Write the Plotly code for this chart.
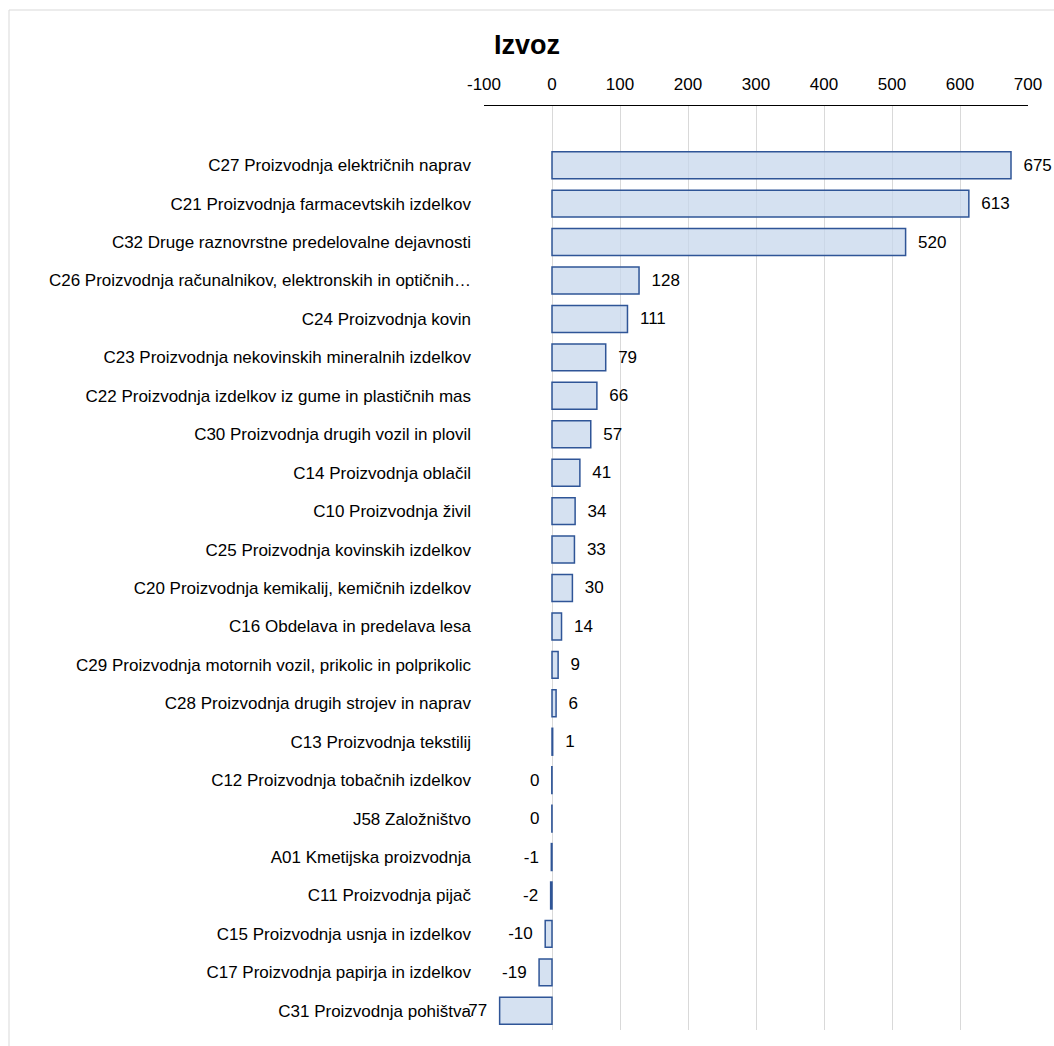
import plotly.graph_objects as go

categories = [
    "C27 Proizvodnja električnih naprav",
    "C21 Proizvodnja farmacevtskih izdelkov",
    "C32 Druge raznovrstne predelovalne dejavnosti",
    "C26 Proizvodnja računalnikov, elektronskih in optičnih…",
    "C24 Proizvodnja kovin",
    "C23 Proizvodnja nekovinskih mineralnih izdelkov",
    "C22 Proizvodnja izdelkov iz gume in plastičnih mas",
    "C30 Proizvodnja drugih vozil in plovil",
    "C14 Proizvodnja oblačil",
    "C10 Proizvodnja živil",
    "C25 Proizvodnja kovinskih izdelkov",
    "C20 Proizvodnja kemikalij, kemičnih izdelkov",
    "C16 Obdelava in predelava lesa",
    "C29 Proizvodnja motornih vozil, prikolic in polprikolic",
    "C28 Proizvodnja drugih strojev in naprav",
    "C13 Proizvodnja tekstilij",
    "C12 Proizvodnja tobačnih izdelkov",
    "J58 Založništvo",
    "A01 Kmetijska proizvodnja",
    "C11 Proizvodnja pijač",
    "C15 Proizvodnja usnja in izdelkov",
    "C17 Proizvodnja papirja in izdelkov",
    "C31 Proizvodnja pohištva",
]
values = [675, 613, 520, 128, 111, 79, 66, 57, 41, 34, 33, 30, 14, 9, 6, 1,
          -0.3, -0.2, -1, -2, -10, -19, -77]
labels = [str(round(v)) for v in values]
x_ticks = [-100, 0, 100, 200, 300, 400, 500, 600, 700]
x_ticktext = ["-100", "0", "100", "200", "300", "400", "500", "600", "700"]

W, H = 1054, 1046
L, R, T, B = 484, 26, 106, 16

fig = go.Figure()
fig.add_trace(go.Bar(
    y=categories, x=values, orientation="h",
    text=labels, texttemplate="  %{text}  ", textposition="outside",
    textfont=dict(size=17, color="#000000"),
    cliponaxis=False,
    marker=dict(color="rgba(197,214,236,0.72)",
                line=dict(color="#2F5597", width=1.5)),
    hoverinfo="x+y",
))

# chart border (Excel chart area outline)
pw, ph = W - L - R, H - T - B
fig.add_shape(type="rect", xref="paper", yref="paper",
              x0=(9 - L) / pw, x1=(W + 10 - L) / pw,
              y0=-(20) / ph, y1=(H - B - 10) / ph,
              line=dict(color="#D9D9D9", width=1), layer="below")

fig.update_layout(
    width=W, height=H,
    margin=dict(l=L, r=R, t=T, b=B),
    paper_bgcolor="white", plot_bgcolor="white",
    font=dict(family="Liberation Sans, Arial, sans-serif", size=17, color="#000000"),
    title=dict(text="<b>Izvoz</b>", x=0.5, xref="container", xanchor="center",
               y=1 - 45 / H, yanchor="middle", font=dict(size=27)),
    bargap=0.3,
    showlegend=False,
)
fig.update_xaxes(
    side="top", range=[-100, 700], tickvals=x_ticks, ticktext=x_ticktext,
    showgrid=True, gridcolor="#D9D9D9", gridwidth=1,
    zeroline=False, showline=True, linecolor="#000000", linewidth=1,
    ticks="", ticklabelstandoff=8,
)
fig.update_yaxes(
    range=[len(categories) - 0.5, -1.54],
    showgrid=False, zeroline=False, showline=False,
    ticks="", ticklabelstandoff=12,
)

fig.write_html("out.html", config={"displayModeBar": False},
               post_script="document.body.style.margin='0';")
